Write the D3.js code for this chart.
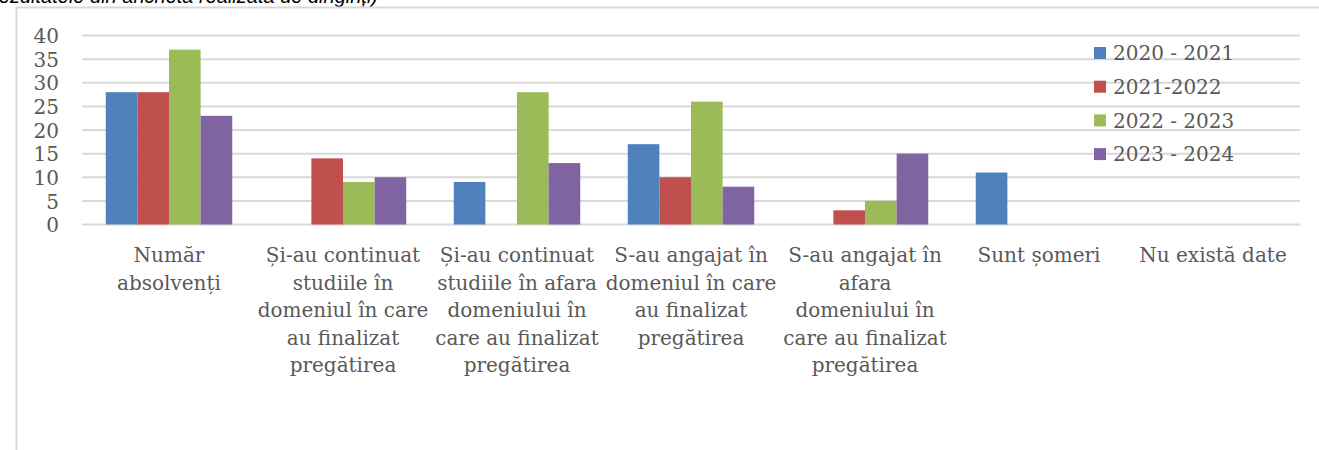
<!DOCTYPE html>
<html>
<head>
<meta charset="utf-8">
<script src="https://cdn.jsdelivr.net/npm/d3@7"></script>
<style>
  html, body { margin: 0; padding: 0; background: #fff; }
  svg { display: block; }
</style>
</head>
<body>
<svg id="chart" width="1319" height="450"></svg>
<script>
// ---- data ----
const categories = [
  "Număr\nabsolvenți",
  "Și-au continuat\nstudiile în\ndomeniul în care\nau finalizat\npregătirea",
  "Și-au continuat\nstudiile în afara\ndomeniului în\ncare au finalizat\npregătirea",
  "S-au angajat în\ndomeniul în care\nau finalizat\npregătirea",
  "S-au angajat în\nafara\ndomeniului în\ncare au finalizat\npregătirea",
  "Sunt șomeri",
  "Nu există date"
];
const seriesNames = ["2020 - 2021", "2021-2022", "2022 - 2023", "2023 - 2024"];
const values2020 = [28, null, 9, 17, null, 11, null];
const values2021 = [28, 14, null, 10, 3, null, null];
const values2022 = [37, 9, 28, 26, 5, null, null];
const values2023 = [23, 10, 13, 8, 15, null, null];
const yTicks = [0, 5, 10, 15, 20, 25, 30, 35, 40];
const caption = "(rezultatele din ancheta realizată de diriginți)";

const seriesValues = [values2020, values2021, values2022, values2023];
const colors = ["#4F81BD", "#C0504D", "#9BBB59", "#8064A2"];

// ---- layout ----
const svg = d3.select("#chart");
const plotLeft = 82, plotRight = 1300, plotTop = 35.5, plotBottom = 224.5;
const textColor = "#595959";
const gridColor = "#D9D9D9";
const font = "'DejaVu Serif', serif";

// caption partially cut at the top (as in the reference)
svg.append("text")
  .attr("x", 378).attr("y", 3)
  .attr("text-anchor", "end")
  .attr("font-family", "'Liberation Sans', Arial, sans-serif")
  .attr("font-style", "italic")
  .attr("font-size", 20)
  .attr("fill", "#000")
  .text(caption);

// chart frame (top + left border)
svg.append("path")
  .attr("d", "M16.5,450 L16.5,7.5 L1319,7.5")
  .attr("fill", "none")
  .attr("stroke", gridColor)
  .attr("stroke-width", 2);

const x0 = d3.scaleBand().domain(d3.range(categories.length)).range([plotLeft, plotRight]).padding(0);
const bw = x0.bandwidth();
const x1 = d3.scaleBand().domain(d3.range(seriesNames.length))
  .range([bw * 0.1365, bw * 0.8635]).padding(0);
const y = d3.scaleLinear().domain([0, 40]).range([plotBottom, plotTop]);

// gridlines
svg.append("g").selectAll("line").data(yTicks).join("line")
  .attr("x1", plotLeft).attr("x2", plotRight)
  .attr("y1", d => y(d)).attr("y2", d => y(d))
  .attr("stroke", gridColor).attr("stroke-width", 2);

// y axis labels
const yAxis = d3.axisLeft(y).tickValues(yTicks).tickSize(0).tickPadding(0);
const yg = svg.append("g").attr("transform", "translate(59,0)").call(yAxis);
yg.select(".domain").remove();
yg.selectAll("text")
  .attr("font-family", font).attr("font-size", 20)
  .attr("fill", textColor).attr("dy", "0.36em");

// bars
const groups = svg.append("g").selectAll("g").data(seriesValues).join("g")
  .attr("fill", (d, i) => colors[i]);
groups.each(function(vals, si) {
  d3.select(this).selectAll("rect")
    .data(vals.map((v, ci) => ({v, ci})).filter(d => d.v != null))
    .join("rect")
    .attr("x", d => x0(d.ci) + x1(si))
    .attr("width", x1.bandwidth())
    .attr("y", d => y(d.v))
    .attr("height", d => y(0) - y(d.v));
});

// category labels
const lineH = 27.5;
const catG = svg.append("g");
categories.forEach((c, i) => {
  const t = catG.append("text")
    .attr("x", x0(i) + bw / 2)
    .attr("y", 262)
    .attr("text-anchor", "middle")
    .attr("font-family", font).attr("font-size", 20)
    .attr("fill", textColor);
  c.split("\n").forEach((line, li) => {
    t.append("tspan").attr("x", x0(i) + bw / 2).attr("y", 262 + li * lineH).text(line);
  });
});

// legend
const legend = svg.append("g");
seriesNames.forEach((name, i) => {
  const cy = 53 + i * 33.7;
  legend.append("rect")
    .attr("x", 1094).attr("y", cy - 6).attr("width", 12).attr("height", 12)
    .attr("fill", colors[i]);
  legend.append("text")
    .attr("x", 1113).attr("y", cy).attr("dy", "0.36em")
    .attr("font-family", font).attr("font-size", 20)
    .attr("fill", textColor)
    .text(name);
});
</script>
</body>
</html>
